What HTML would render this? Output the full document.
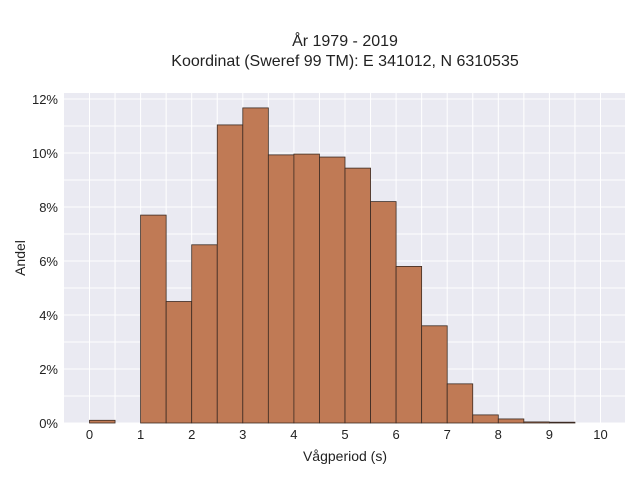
<!DOCTYPE html>
<html><head><meta charset="utf-8"><style>
body{margin:0;background:#fff;font-family:"Liberation Sans",sans-serif}
svg text{font-family:"Liberation Sans",sans-serif;fill:#222}
</style></head><body>
<svg id="c" width="640" height="480">
<text x="345" y="46" font-size="16" text-anchor="middle">År 1979 - 2019</text>
<text x="345" y="66" font-size="16" text-anchor="middle">Koordinat (Sweref 99 TM): E 341012, N 6310535</text>
<rect x="64" y="93" width="561" height="330" fill="#eaeaf2"/>
<g id="grid"></g><g id="bars"></g><g id="ticks"></g>
<text x="345" y="461" font-size="14" text-anchor="middle">Vågperiod (s)</text>
<text transform="translate(25,258) rotate(-90)" font-size="14" text-anchor="middle">Andel</text>
</svg>
<script>
const binStarts=[0,0.5,1,1.5,2,2.5,3,3.5,4,4.5,5,5.5,6,6.5,7,7.5,8,8.5,9,9.5];
const shares=[0.1,0,7.7,4.5,6.6,11.04,11.67,9.93,9.96,9.85,9.44,8.2,5.8,3.6,1.45,0.3,0.15,0.04,0.03,0];
const binWidth=0.5;
const xTicks=[0,1,2,3,4,5,6,7,8,9,10];
const yTicks=[0,2,4,6,8,10,12];
const NS="http://www.w3.org/2000/svg";
const xs=v=>89.5+v*51.1, ys=v=>423-v*27;
const g=document.getElementById('grid'),b=document.getElementById('bars'),t=document.getElementById('ticks');
function mk(tag,a,p){const e=document.createElementNS(NS,tag);for(const k in a)e.setAttribute(k,a[k]);p.appendChild(e);return e;}
for(let v=0;v<=10.01;v+=0.5){const l=mk('line',{x1:xs(v),x2:xs(v),y1:93,y2:423,stroke:'#fff','stroke-width':1},g);

}
for(let v=0;v<=12;v+=1){const l=mk('line',{x1:64,x2:625,y1:ys(v),y2:ys(v),stroke:'#fff','stroke-width':1},g);

}
binStarts.forEach((s,i)=>{if(shares[i]<=0)return;const r=mk('rect',{x:xs(s),y:ys(shares[i]),width:xs(s+binWidth)-xs(s),height:ys(0)-ys(shares[i]),fill:'#c07a55',stroke:'#3b2a22','stroke-width':0.8},b);

});
xTicks.forEach(v=>{const e=mk('text',{x:xs(v),y:439,'font-size':13,'text-anchor':'middle'},t);e.textContent=v;

});
yTicks.forEach(v=>{const e=mk('text',{x:58,y:ys(v)+5,'font-size':13,'text-anchor':'end'},t);e.textContent=v+'%';

});
</script>
</body></html>
